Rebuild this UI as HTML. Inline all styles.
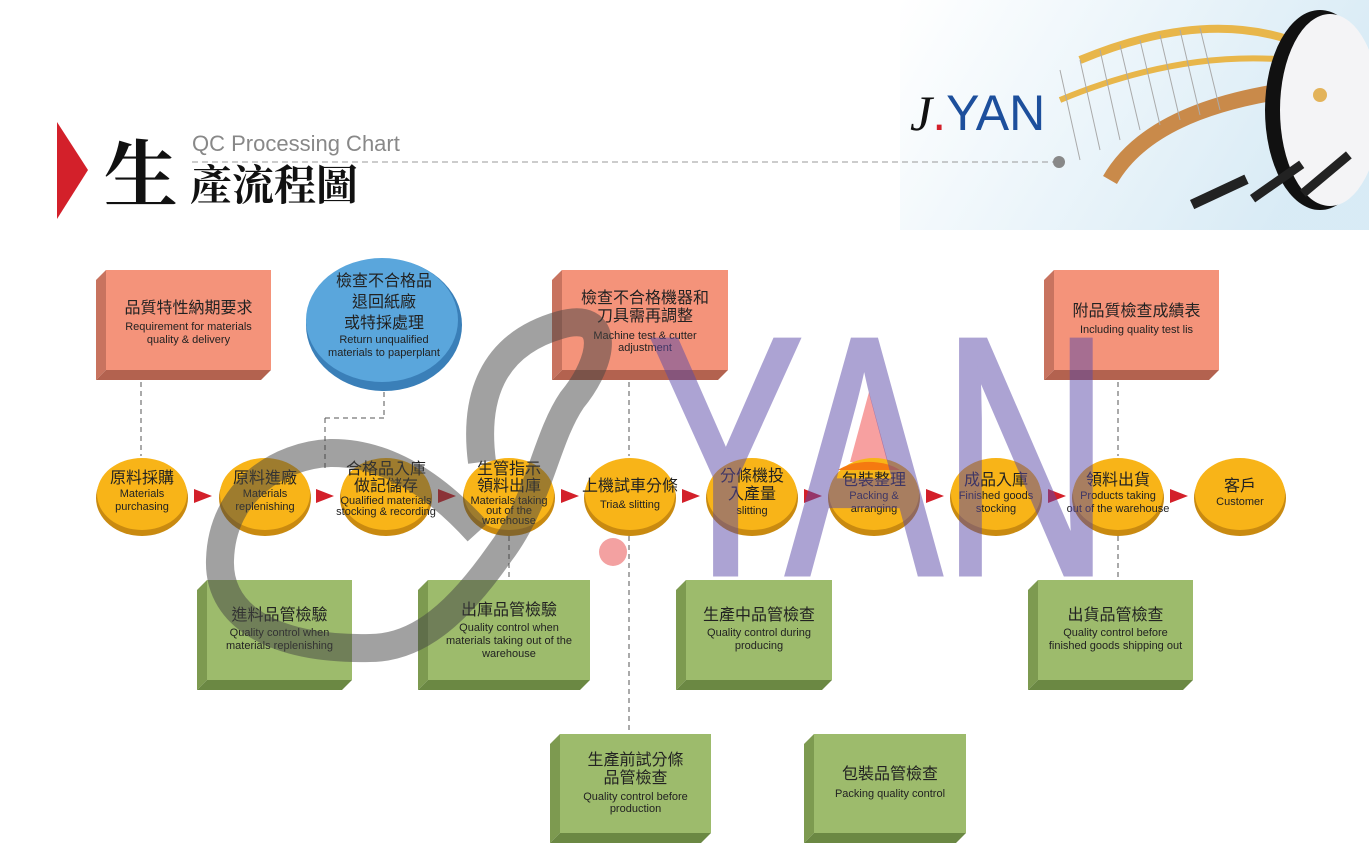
<!DOCTYPE html>
<html><head><meta charset="utf-8"><style>
body{margin:0;width:1369px;height:856px;background:#fff;position:relative;overflow:hidden;font-family:"Liberation Sans","Noto Sans CJK TC",sans-serif;}
.t{position:absolute;text-align:center;color:#222;line-height:1.15;}
.c{font-size:16px;}
.e{font-size:11px;}
svg{position:absolute;left:0;top:0;}
</style></head><body>
<svg width="1369" height="856">
<defs>
<linearGradient id="sky" x1="0" y1="0" x2="1" y2="0.3"><stop offset="0" stop-color="#fff"/><stop offset="1" stop-color="#cfe6f3"/></linearGradient>
</defs>
<rect x="900" y="0" width="469" height="230" fill="url(#sky)" opacity="0.8"/>
<path d="M1080 60 Q1200 10 1290 40" stroke="#e8b64a" stroke-width="8" fill="none"/>
<path d="M1060 100 Q1180 50 1290 60" stroke="#e8b64a" stroke-width="6" fill="none"/>
<path d="M1110 180 Q1150 110 1290 90" stroke="#c98a4a" stroke-width="16" fill="none"/>
<g stroke="#aaa" stroke-width="1">
<line x1="1080" y1="60" x2="1100" y2="150"/><line x1="1100" y1="50" x2="1120" y2="140"/><line x1="1120" y1="45" x2="1140" y2="130"/><line x1="1140" y1="40" x2="1160" y2="125"/><line x1="1160" y1="35" x2="1180" y2="120"/><line x1="1180" y1="30" x2="1200" y2="115"/><line x1="1200" y1="28" x2="1220" y2="110"/><line x1="1060" y1="70" x2="1080" y2="160"/>
</g>
<ellipse cx="1320" cy="110" rx="55" ry="100" fill="#111"/>
<ellipse cx="1330" cy="110" rx="50" ry="96" fill="#f4f4f6"/>
<circle cx="1320" cy="95" r="7" fill="#e3b35a"/>
<g fill="#222"><rect x="1190" y="200" width="60" height="10" transform="rotate(-25 1190 200)"/><rect x="1250" y="195" width="60" height="9" transform="rotate(-35 1250 195)"/><rect x="1300" y="190" width="60" height="9" transform="rotate(-40 1300 190)"/></g>
<polygon points="57,122 88,170 57,219" fill="#d3202a"/>
<line x1="192" y1="162" x2="1055" y2="162" stroke="#999" stroke-dasharray="6,4"/>
<circle cx="1059" cy="162" r="6" fill="#888"/>
<g stroke="#555" stroke-dasharray="5,4" fill="none">
<line x1="141" y1="382" x2="141" y2="456"/>
<line x1="384" y1="392" x2="384" y2="418"/><line x1="384" y1="418" x2="325" y2="418"/><line x1="325" y1="418" x2="325" y2="470"/>
<line x1="629" y1="382" x2="629" y2="456"/><line x1="629" y1="536" x2="629" y2="734"/>
<line x1="509" y1="536" x2="509" y2="580"/>
<line x1="1118" y1="382" x2="1118" y2="456"/><line x1="1118" y1="536" x2="1118" y2="580"/>
</g>
<g fill="#f4937a">
<rect x="106" y="270" width="165" height="100"/><rect x="562" y="270" width="166" height="100"/><rect x="1054" y="270" width="165" height="100"/></g>
<g fill="#c8735f">
<polygon points="96,280 106,270 106,370 96,380"/><polygon points="552,280 562,270 562,370 552,380"/><polygon points="1044,280 1054,270 1054,370 1044,380"/></g>
<g fill="#b3624f">
<polygon points="96,380 106,370 271,370 261,380"/><polygon points="552,380 562,370 728,370 718,380"/><polygon points="1044,380 1054,370 1219,370 1209,380"/></g>
<ellipse cx="384" cy="325" rx="78" ry="66" fill="#3a7fb8"/>
<ellipse cx="382" cy="320" rx="76" ry="62" fill="#5aa6dc"/>
<g fill="#9dbb6c">
<rect x="207" y="580" width="145" height="100"/><rect x="428" y="580" width="162" height="100"/><rect x="686" y="580" width="146" height="100"/><rect x="1038" y="580" width="155" height="100"/><rect x="560" y="734" width="151" height="99"/><rect x="814" y="734" width="152" height="99"/></g>
<g fill="#7d9a50">
<polygon points="197,590 207,580 207,680 197,690"/><polygon points="418,590 428,580 428,680 418,690"/><polygon points="676,590 686,580 686,680 676,690"/><polygon points="1028,590 1038,580 1038,680 1028,690"/><polygon points="550,744 560,734 560,833 550,843"/><polygon points="804,744 814,734 814,833 804,843"/></g>
<g fill="#6b8843">
<polygon points="197,690 207,680 352,680 342,690"/><polygon points="418,690 428,680 590,680 580,690"/><polygon points="676,690 686,680 832,680 822,690"/><polygon points="1028,690 1038,680 1193,680 1183,690"/><polygon points="550,843 560,833 711,833 701,843"/><polygon points="804,843 814,833 966,833 956,843"/></g>
<polygon points="869,392 850,462 888,462" fill="#f7a0a0"/>
<g fill="#c98a10">
<ellipse cx="142" cy="498" rx="46" ry="38"/><ellipse cx="265" cy="498" rx="46" ry="38"/><ellipse cx="386" cy="498" rx="46" ry="38"/><ellipse cx="509" cy="498" rx="46" ry="38"/><ellipse cx="630" cy="498" rx="46" ry="38"/><ellipse cx="752" cy="498" rx="46" ry="38"/><ellipse cx="874" cy="498" rx="46" ry="38"/><ellipse cx="996" cy="498" rx="46" ry="38"/><ellipse cx="1118" cy="498" rx="46" ry="38"/><ellipse cx="1240" cy="498" rx="46" ry="38"/></g>
<g fill="#f8b418">
<ellipse cx="142" cy="494" rx="45" ry="36"/><ellipse cx="265" cy="494" rx="45" ry="36"/><ellipse cx="386" cy="494" rx="45" ry="36"/><ellipse cx="509" cy="494" rx="45" ry="36"/><ellipse cx="630" cy="494" rx="45" ry="36"/><ellipse cx="752" cy="494" rx="45" ry="36"/><ellipse cx="874" cy="494" rx="45" ry="36"/><ellipse cx="996" cy="494" rx="45" ry="36"/><ellipse cx="1118" cy="494" rx="45" ry="36"/><ellipse cx="1240" cy="494" rx="45" ry="36"/></g>
<path d="M838 470 A40 22 0 0 1 900 470 Z" fill="#f57a10"/>
<g fill="#d3202a">
<polygon points="194,489 212,496 194,503"/><polygon points="316,489 334,496 316,503"/><polygon points="438,489 456,496 438,503"/><polygon points="561,489 579,496 561,503"/><polygon points="682,489 700,496 682,503"/><polygon points="804,489 822,496 804,503"/><polygon points="926,489 944,496 926,503"/><polygon points="1048,489 1066,496 1048,503"/><polygon points="1170,489 1188,496 1170,503"/></g>
</svg>
<div class="t" style="left:104px;top:140px;font-size:74px;font-family:'Liberation Serif','Noto Serif CJK SC',serif;font-weight:bold;color:#111;line-height:1">生</div>
<div class="t" style="left:192px;top:131px;font-size:22px;color:#888;">QC Processing Chart</div>
<div class="t" style="left:190px;top:166px;font-size:42px;font-family:'Liberation Serif','Noto Serif CJK SC',serif;font-weight:bold;color:#111;line-height:1">產流程圖</div>
<div class="t" style="left:910px;top:88px;font-size:50px;color:#1d4f9c;line-height:1"><span style="color:#111;font-style:italic;font-family:'Liberation Serif',serif">J</span><span style="color:#d3202a">.</span>YAN</div>
<div class="t" style="left:106px;top:300px;width:165px;"><div class="c">品質特性納期要求</div><div class="e" style="margin-top:3px">Requirement for materials<br>quality &amp; delivery</div></div>
<div class="t" style="left:562px;top:290px;width:166px;"><div class="c">檢查不合格機器和<br>刀具需再調整</div><div class="e" style="margin-top:3px">Machine test &amp; cutter<br>adjustment</div></div>
<div class="t" style="left:1054px;top:303px;width:165px;"><div class="c">附品質檢查成績表</div><div class="e" style="margin-top:3px">Including quality test lis</div></div>
<div class="t" style="left:306px;top:272px;width:156px;"><div class="c" style="line-height:1.3">檢查不合格品<br>退回紙廠<br>或特採處理</div><div class="e">Return unqualified<br>materials to paperplant</div></div>
<div class="t" style="left:97px;top:470px;width:90px;"><div class="c">原料採購</div><div class="e">Materials<br>purchasing</div></div>
<div class="t" style="left:220px;top:470px;width:90px;"><div class="c">原料進廠</div><div class="e">Materials<br>replenishing</div></div>
<div class="t" style="left:326px;top:462px;width:120px;"><div class="c" style="line-height:1.05">合格品入庫<br>做記儲存</div><div class="e" style="line-height:1">Qualified materials<br>stocking &amp; recording</div></div>
<div class="t" style="left:459px;top:462px;width:100px;"><div class="c" style="line-height:1.05">生管指示<br>領料出庫</div><div class="e" style="line-height:0.95">Materials taking<br>out of the<br>warehouse</div></div>
<div class="t" style="left:575px;top:478px;width:110px;"><div class="c">上機試車分條</div><div class="e" style="margin-top:3px">Tria&amp; slitting</div></div>
<div class="t" style="left:702px;top:468px;width:100px;"><div class="c">分條機投<br>入產量</div><div class="e">slitting</div></div>
<div class="t" style="left:824px;top:472px;width:100px;"><div class="c">包裝整理</div><div class="e">Packing &amp;<br>arranging</div></div>
<div class="t" style="left:946px;top:472px;width:100px;"><div class="c">成品入庫</div><div class="e">Finished goods<br>stocking</div></div>
<div class="t" style="left:1058px;top:472px;width:120px;"><div class="c">領料出貨</div><div class="e">Products taking<br>out of the warehouse</div></div>
<div class="t" style="left:1195px;top:478px;width:90px;"><div class="c">客戶</div><div class="e">Customer</div></div>
<div class="t" style="left:207px;top:607px;width:145px;"><div class="c">進料品管檢驗</div><div class="e" style="margin-top:2px">Quality control when<br>materials replenishing</div></div>
<div class="t" style="left:428px;top:602px;width:162px;"><div class="c">出庫品管檢驗</div><div class="e" style="margin-top:2px">Quality control when<br>materials taking out of the<br>warehouse</div></div>
<div class="t" style="left:686px;top:607px;width:146px;"><div class="c">生產中品管檢查</div><div class="e" style="margin-top:2px">Quality control during<br>producing</div></div>
<div class="t" style="left:1038px;top:607px;width:155px;"><div class="c">出貨品管檢查</div><div class="e" style="margin-top:2px">Quality control before<br>finished goods shipping out</div></div>
<div class="t" style="left:560px;top:752px;width:151px;"><div class="c">生產前試分條<br>品管檢查</div><div class="e" style="margin-top:2px">Quality control before<br>production</div></div>
<div class="t" style="left:814px;top:766px;width:152px;"><div class="c">包裝品管檢查</div><div class="e" style="margin-top:4px">Packing quality control</div></div>
<svg width="1369" height="856">
<g opacity="0.5">
<path d="M482 462 C474 400 490 345 560 325 C612 310 605 360 572 400 C545 440 540 500 500 553 C460 610 420 648 370 648 C280 650 218 620 220 560 C222 490 280 455 330 453 C390 452 440 490 478 532" stroke="#444" stroke-width="28" fill="none"/>
<text x="648" y="574" font-family="Liberation Sans" font-size="340" fill="#5b4aa8" stroke="#5b4aa8" stroke-width="5" textLength="462" lengthAdjust="spacingAndGlyphs">YAN</text>
</g>
<circle cx="613" cy="552" r="14" fill="#f08a8a" opacity="0.8"/>
</svg>
</body></html>
